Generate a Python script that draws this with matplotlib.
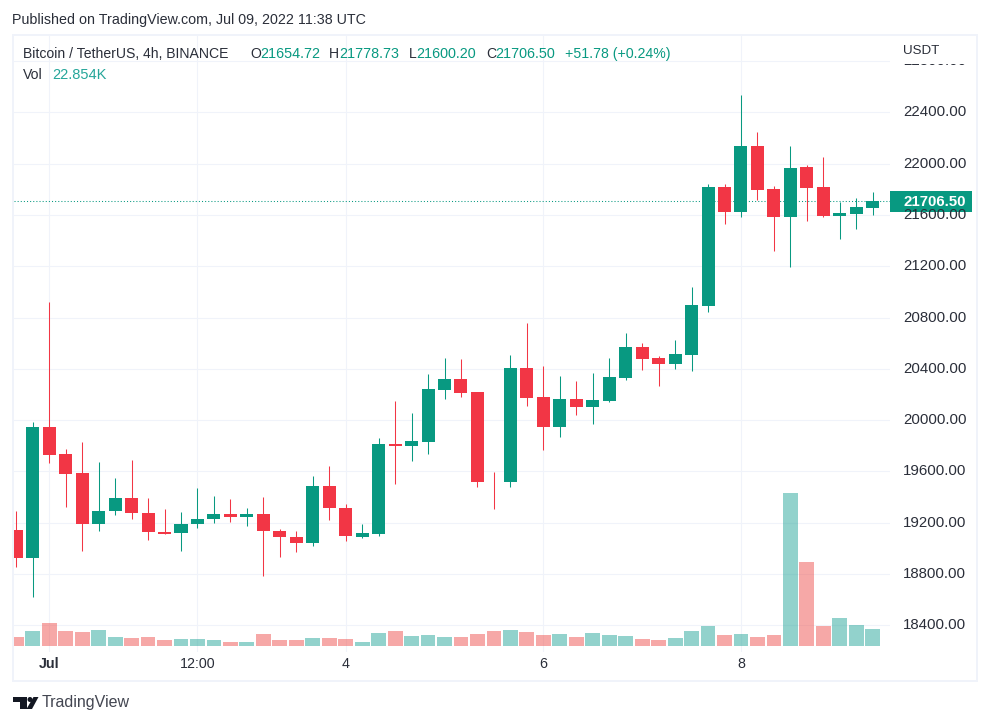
# -*- coding: utf-8 -*-
# BTC/USDT 4h chart, TradingView look
import matplotlib
matplotlib.use('Agg')
import matplotlib.pyplot as plt
from matplotlib.patches import Rectangle, Polygon, Circle
from matplotlib.transforms import Bbox

plt.rcParams['font.family'] = ['Liberation Sans', 'DejaVu Sans']

W, H = 990, 725

# candles, oldest first
opens = [19146, 18923, 19943, 19732, 19584, 19188, 19290, 19389, 19279, 19131,
         19118, 19188, 19227, 19271, 19248, 19264, 19139, 19092, 19040, 19490,
         19318, 19092, 19115, 19810, 19795, 19826, 20232, 20318, 20217, 19521,
         19514, 20404, 20178, 19943, 20162, 20100, 20146, 20327, 20567, 20481,
         20434, 20504, 20887, 21817, 21621, 22137, 21801, 21582, 21973, 21817,
         21590, 21606, 21654.72]
highs = [19295, 19982, 20920, 19771, 19826, 19670, 19545, 19685, 19389, 19303,
         19287, 19467, 19412, 19381, 19311, 19404, 19154, 19139, 19568, 19646,
         19342, 19186, 19857, 20146, 20053, 20357, 20482, 20475, 20217, 19592,
         20506, 20756, 20420, 20342, 20303, 20365, 20482, 20676, 20598, 20496,
         20621, 21036, 21840, 21840, 22535, 22246, 21825, 22137, 21989, 22051,
         21700, 21731, 21778.73]
lows = [18852, 18623, 19665, 19321, 18977, 19133, 19258, 19227, 19063, 19115,
        18977, 19157, 19196, 19204, 19172, 18782, 18930, 18969, 19016, 19219,
        19061, 19080, 19100, 19501, 19678, 19732, 20162, 20178, 19482, 19303,
        19482, 20107, 19764, 19865, 20037, 19967, 20139, 20312, 20387, 20262,
        20395, 20379, 20840, 21528, 21582, 21715, 21317, 21192, 21551, 21582,
        21410, 21489, 21600.20]
closes = [18923, 19943, 19727, 19579, 19188, 19295, 19389, 19274, 19126, 19115,
          19193, 19232, 19271, 19248, 19264, 19133, 19087, 19040, 19490, 19313,
          19100, 19123, 19810, 19795, 19834, 20240, 20318, 20209, 19514, 19514,
          20404, 20170, 19943, 20162, 20100, 20154, 20334, 20567, 20473, 20434,
          20512, 20895, 21817, 21621, 22137, 21793, 21582, 21965, 21809, 21590,
          21614, 21660, 21706.50]
# volume in thousands
volumes = [12.1, 20.2, 30.9, 20.2, 18.8, 21.5, 12.1, 10.8, 12.1, 8.1,
           9.4, 9.4, 8.1, 5.4, 5.4, 16.1, 8.1, 8.1, 10.8, 10.8,
           9.4, 5.4, 17.5, 20.2, 13.4, 14.8, 12.1, 12.1, 16.1, 20.2,
           21.5, 18.8, 14.8, 16.1, 12.1, 17.5, 14.8, 13.4, 9.4, 8.1,
           10.8, 20.2, 26.9, 14.8, 16.1, 12.1, 14.8, 205.6, 112.9, 26.9,
           37.6, 28.2, 22.854]
# the bars do not always follow the candle colour, so keep their colours apart
vol_up = [0, 1, 0, 0, 0, 1, 1, 0, 0, 0,
          1, 1, 1, 0, 1, 0, 0, 0, 1, 0,
          0, 1, 1, 0, 1, 1, 1, 0, 0, 0,
          1, 0, 0, 1, 0, 1, 1, 1, 0, 0,
          1, 1, 1, 0, 1, 0, 0, 1, 0, 0,
          1, 1, 1]

price_ticks = [18400, 18800, 19200, 19600, 20000, 20400, 20800,
               21200, 21600, 22000, 22400, 22800]
time_ticks = [2, 11, 20, 32, 44]
time_labels = ['Jul', '12:00', '4', '6', '8']
last_price = 21706.50

UP = '#089981'
DOWN = '#f23645'
VOL_UP = '#26a69a'
VOL_DOWN = '#ef5350'
GRID = '#f0f3fa'
TEXT = '#2a2e39'
LOGO = '#131722'

fig = plt.figure(figsize=(W / 100, H / 100), dpi=100, facecolor='white')


def box(left, top, right, bottom):
    return [left / W, 1 - bottom / H, (right - left) / W, (bottom - top) / H]


def label(x, y, s, **kw):
    kw.setdefault('color', TEXT)
    kw.setdefault('fontsize', 10.1)
    kw.setdefault('va', 'center')
    return fig.text(x / W, 1 - y / H, s, **kw)


# pane limits: x from candle spacing, y from the 22400 and 18400 grid rows
PANE_L, PANE_R, PANE_T, PANE_B = 14, 890, 35, 652
x_of = lambda px: (px - 16.3) / 16.47
px_per_usd = (625.3 - 112.3) / 4000
y_of = lambda py: 22400 - (py - 112.3) / px_per_usd

ax = fig.add_axes(box(PANE_L, PANE_T, PANE_R, PANE_B), zorder=2)
ax.set_xlim(x_of(PANE_L), x_of(PANE_R))
ax.set_ylim(y_of(PANE_B), y_of(PANE_T))
ax.patch.set_alpha(0)
for s in ax.spines.values():
    s.set_visible(False)
ax.tick_params(length=0, labelbottom=False, labelleft=False)
ax.set_xticks(time_ticks)
ax.set_yticks(price_ticks)

# grid sits in its own axes below the volume bars
gx = fig.add_axes(box(PANE_L, PANE_T, PANE_R, PANE_B), zorder=0)
gx.set_xlim(ax.get_xlim())
gx.set_ylim(ax.get_ylim())
gx.set_xticks(time_ticks)
gx.set_yticks(price_ticks)
gx.grid(True, color=GRID, linewidth=0.75)
gx.set_axisbelow(True)
gx.tick_params(length=0, labelbottom=False, labelleft=False)
for s in gx.spines.values():
    s.set_visible(False)

# volume, 1 px is about 1.344K
vx = fig.add_axes(box(PANE_L, PANE_T, PANE_R, 646), zorder=1)
vx.set_xlim(ax.get_xlim())
vx.set_ylim(0, (646 - PANE_T) * 1.344)
vx.axis('off')
idx = list(range(len(opens)))
vx.bar(idx, volumes, width=0.9, linewidth=0,
       color=[VOL_UP if u else VOL_DOWN for u in vol_up], alpha=0.5)

# last price line goes under the candles
ax.axhline(last_price, color=UP, linewidth=0.75, linestyle=(0, (1, 2)), zorder=1)

for i in idx:
    c = UP if closes[i] >= opens[i] else DOWN
    ax.vlines(i, lows[i], highs[i], color=c, linewidth=0.75, zorder=2, snap=True)
    ax.bar(i, abs(closes[i] - opens[i]), bottom=min(opens[i], closes[i]),
           width=0.79, color=c, linewidth=0, zorder=3)

# frame and logo in pixel coordinates
over = fig.add_axes([0, 0, 1, 1], zorder=3)
over.set_xlim(0, W)
over.set_ylim(H, 0)
over.axis('off')
for r in [(12, 34, 966, 2), (12, 34, 2, 648), (12, 680, 966, 2), (976, 34, 2, 648)]:
    over.add_patch(Rectangle(r[:2], r[2], r[3], color=GRID, linewidth=0))
over.add_patch(Polygon([(13, 697), (27, 697), (27, 709), (20, 709), (20, 702), (13, 702)],
                       color=LOGO, linewidth=0))
over.add_patch(Polygon([(33.5, 697), (38.5, 697), (32, 709), (26.5, 709)],
                       color=LOGO, linewidth=0))
over.add_patch(Circle((30, 699.5), 2.5, color=LOGO, linewidth=0))

# price scale
for p in price_ticks:
    py = 112.3 + (22400 - p) * px_per_usd
    t = label(903, py, '%.2f' % p, fontsize=10.8, zorder=4)
    if p == 22800:
        # only the bottom edge of this label shows below the USDT header
        t.set_clip_box(Bbox([[890, 0], [975, H - 63.5]]))
        t.set_clip_on(True)
label(903, 51, 'USDT', fontsize=9.6, zorder=6)

# last price tag
py = 112.3 + (22400 - last_price) * px_per_usd
over.add_patch(Rectangle((890, 191), 82, 21, color=UP, linewidth=0, zorder=6))
label(903, py + 0.5, '%.2f' % last_price, color='white', fontweight='bold',
      fontsize=10.8, zorder=7)

# time axis
for t, s in zip(time_ticks, time_labels):
    px = 16.3 + 16.47 * t
    label(px, 663.5, s, ha='center', fontsize=10.3,
          fontweight='bold' if s == 'Jul' else 'normal')

# header texts
label(12, 20, 'Published on TradingView.com, Jul 09, 2022 11:38 UTC', fontsize=10.3)
label(23, 54, 'Bitcoin / TetherUS, 4h, BINANCE', fontsize=10.1)
label(23, 75, 'Vol', fontsize=10.1)
label(52, 75, '22.854K', color=VOL_UP, fontsize=10.5)
for x, vx_, k, v in [(250, 260, 'O', '21654.72'), (329, 339, 'H', '21778.73'),
                     (409, 416.5, 'L', '21600.20'), (486, 495.5, 'C', '21706.50')]:
    label(x, 54, k)
    label(vx_, 54, v, color=UP, fontsize=10.4)
label(565, 54, '+51.78 (+0.24%)', color=UP, fontsize=10.2)
label(42, 703, 'TradingView', fontsize=11.5, color='#434651')

fig.savefig('out.png', dpi=100)
